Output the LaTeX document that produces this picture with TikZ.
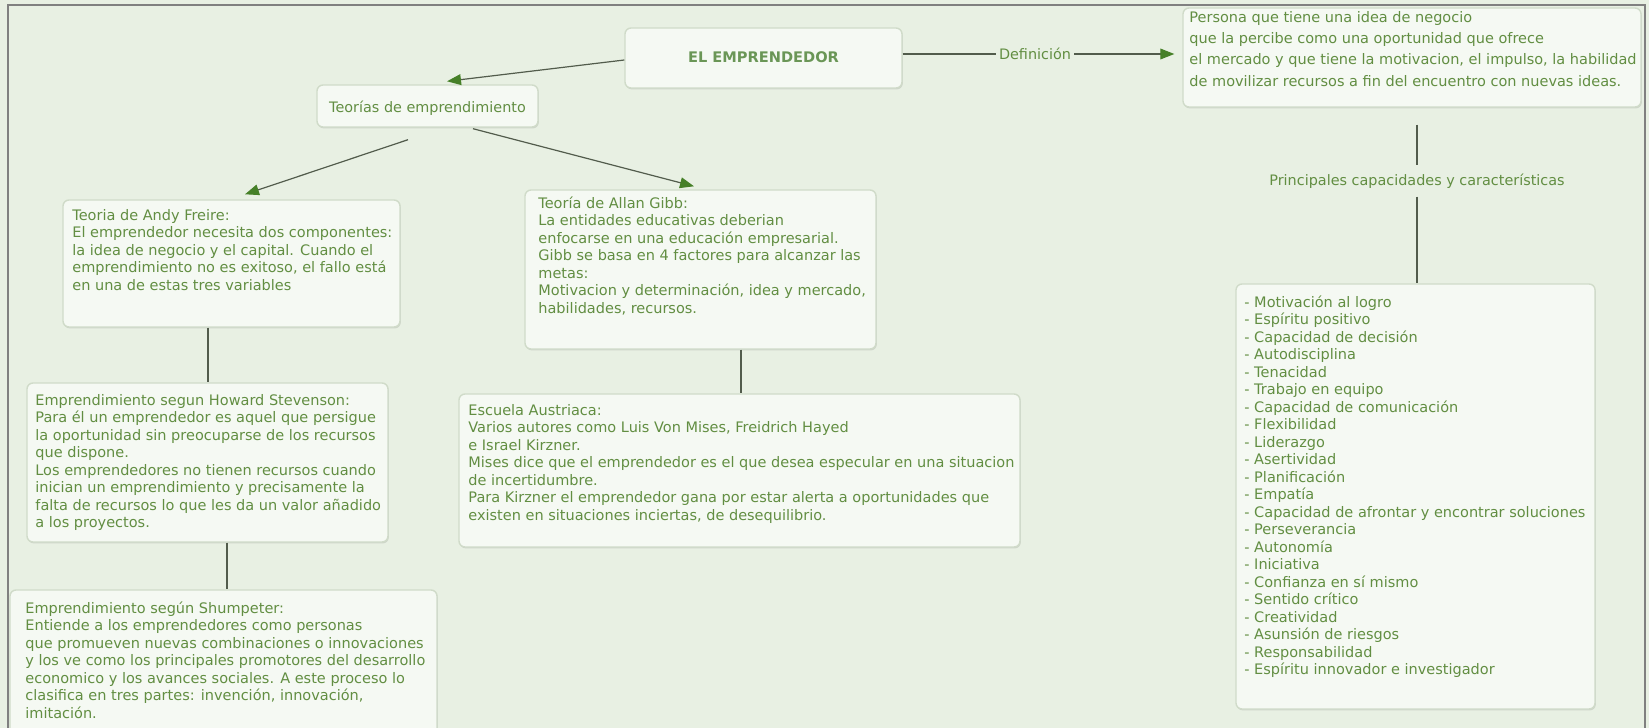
\documentclass[tikz,border=0pt]{standalone}
\usepackage{fontspec}
\setmainfont{DejaVu Sans}
\usetikzlibrary{arrows.meta,calc,fit,shadows}
\definecolor{bg}{RGB}{232,240,227}
\definecolor{boxfill}{RGB}{245,249,243}
\definecolor{boxedge}{RGB}{208,219,201}
\definecolor{txtgreen}{RGB}{98,142,66}
\definecolor{titlegreen}{RGB}{106,150,86}
\definecolor{linecol}{RGB}{82,92,76}
\definecolor{tipgreen}{RGB}{70,128,40}
\definecolor{framecol}{RGB}{128,128,128}
\begin{document}
\begin{tikzpicture}[x=0.5pt,y=-0.5pt,
  bx/.style={draw=boxedge, line width=0.7pt, fill=boxfill, rounded corners=3pt, inner sep=0pt,
    drop shadow={shadow xshift=0.4pt, shadow yshift=-0.7pt, opacity=0.16, fill=black!70}},
  txt/.style={anchor=north west, inner sep=0pt, align=left, text=txtgreen, font=\fontsize{7.25}{8.75}\selectfont},
  lbl/.style={inner sep=1.5pt, text=txtgreen, font=\fontsize{7.2}{8.75}\selectfont},
  conn/.style={draw=linecol, line width=0.6pt},
  arr/.style={conn, -{Triangle[length=7pt,width=5.4pt,color=tipgreen]}},
]
\useasboundingbox (0,0) rectangle (1649,728);
\fill[bg] (0,0) rectangle (1649,728);
\draw[framecol, line width=1pt] (8,728) -- (8,5) -- (1645,5) -- (1645,728);

% boxes
\node[bx, fit={(625,28) (902,88)}] (emp) {};
\node[bx, fit={(317,85) (538,127)}] (teo) {};
\node[bx, fit={(1183,8) (1641,107)}] (defb) {};
\node[bx, fit={(63,200) (400,327)}] (andy) {};
\node[bx, fit={(27,383) (388,542)}] (stev) {};
\node[bx, fit={(10,590) (437,735)}] (shum) {};
\node[bx, fit={(525,190) (876,349)}] (gibb) {};
\node[bx, fit={(459,394) (1020,547)}] (aust) {};
\node[bx, fit={(1236,284) (1595,709)}] (cara) {};

% texts
\node[inner sep=0pt, text=titlegreen, font=\bfseries\fontsize{7.3}{9}\selectfont] (empt) at ($(emp.center)+(0,-1)$) {EL EMPRENDEDOR};
\node[lbl] (teot) at ($(teo.center)+(0,2)$) {Teorías de emprendimiento};

\node[txt, font=\fontsize{7.25}{10.6}\selectfont] (deft) at (1189,11) {Persona que tiene una idea de negocio\\
que la percibe como una oportunidad que ofrece\\
el mercado y que tiene la motivacion, el impulso, la habilidad\\
de movilizar recursos a fin del encuentro con nuevas ideas.};

\node[txt] (andyt) at (72,209) {Teoria de Andy Freire:\\
El emprendedor necesita dos componentes:\\
la idea de negocio y el capital. Cuando el\\
emprendimiento no es exitoso, el fallo está\\
en una de estas tres variables};

\node[txt] (gibbt) at (538,196) {Teoría de Allan Gibb:\\
La entidades educativas deberian\\
enfocarse en una educación empresarial.\\
Gibb se basa en 4 factores para alcanzar las\\
metas:\\
Motivacion y determinación, idea y mercado,\\
habilidades, recursos.};

\node[txt] (stevt) at (35,394) {Emprendimiento segun Howard Stevenson:\\
Para él un emprendedor es aquel que persigue\\
la oportunidad sin preocuparse de los recursos\\
que dispone.\\
Los emprendedores no tienen recursos cuando\\
inician un emprendimiento y precisamente la\\
falta de recursos lo que les da un valor añadido\\
a los proyectos.};

\node[txt] (austt) at (468,404) {Escuela Austriaca:\\
Varios autores como Luis Von Mises, Freidrich Hayed\\
e Israel Kirzner.\\
Mises dice que el emprendedor es el que desea especular en una situacion\\
de incertidumbre.\\
Para Kirzner el emprendedor gana por estar alerta a oportunidades que\\
existen en situaciones inciertas, de desequilibrio.};

\node[txt] (shumt) at (25,601) {Emprendimiento según Shumpeter:\\
Entiende a los emprendedores como personas\\
que promueven nuevas combinaciones o innovaciones\\
y los ve como los principales promotores del desarrollo\\
economico y los avances sociales. A este proceso lo\\
clasifica en tres partes: invención, innovación,\\
imitación.};

\node[txt] (carat) at (1244,295) {- Motivación al logro\\
- Espíritu positivo\\
- Capacidad de decisión\\
- Autodisciplina\\
- Tenacidad\\
- Trabajo en equipo\\
- Capacidad de comunicación\\
- Flexibilidad\\
- Liderazgo\\
- Asertividad\\
- Planificación\\
- Empatía\\
- Capacidad de afrontar y encontrar soluciones\\
- Perseverancia\\
- Autonomía\\
- Iniciativa\\
- Confianza en sí mismo\\
- Sentido crítico\\
- Creatividad\\
- Asunsión de riesgos\\
- Responsabilidad\\
- Espíritu innovador e investigador};

% labels
\node[lbl] (defl) at (1035,54) {Definición};
\node[lbl] (pcc) at (1417,181) {Principales capacidades y características};

% helper coordinates
\coordinate (xa) at (208,0);
\coordinate (xs) at (227,0);
\coordinate (xg) at (741,0);

% connectors
\draw[arr] ($(emp.west)+(0,2)$) -- ($(teo.north)+(19.5,-3)$);
\draw[arr] ($(teo.south)+(-19.5,12)$) -- ($(andy.north)+(13.5,-5)$);
\draw[arr] ($(teo.south)+(45.5,1)$) -- ($(gibb.north)+(-6.5,-3)$);
\draw[conn] (emp.east |- defl.west) -- (defl.west);
\draw[arr] (defl.east) -- ($(defb.west |- defl.east)+(-8,0)$);
\draw[conn] ($(defb.south -| pcc)+(0,17)$) -- ($(pcc.north)+(0,-5)$);
\draw[conn] ($(pcc.south)+(0,5)$) -- (cara.north -| pcc);
\draw[conn] (andy.south -| xa) -- (stev.north -| xa);
\draw[conn] (stev.south -| xs) -- (shum.north -| xs);
\draw[conn] (gibb.south -| xg) -- (aust.north -| xg);
\end{tikzpicture}
\end{document}
